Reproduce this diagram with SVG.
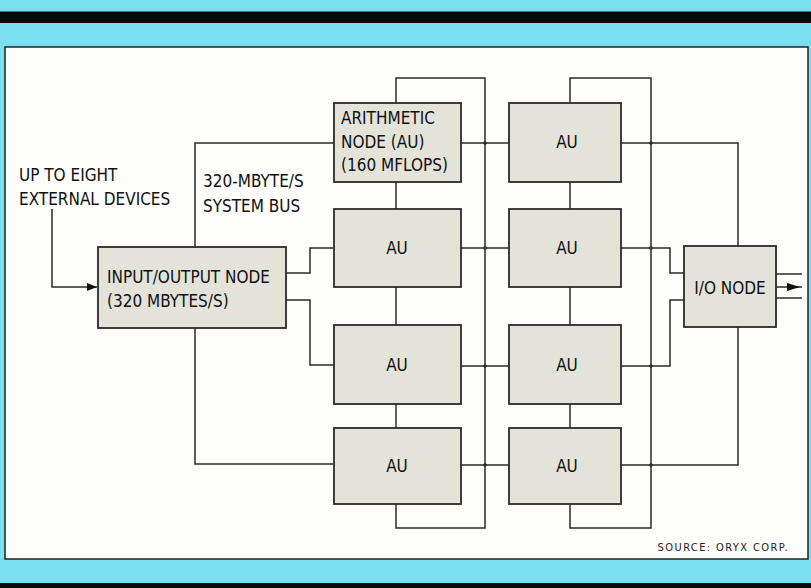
<svg xmlns="http://www.w3.org/2000/svg" width="811" height="588" viewBox="0 0 811 588">
<defs>
<style>
.bg{fill:#7adff1}
.band{fill:#0b0b0b}
.panel{fill:#fdfdfb;stroke:#222;stroke-width:1.5}
.box{fill:#e3e3da;stroke:#2a2a2a;stroke-width:1.8}
.ln{fill:none;stroke:#2a2a2a;stroke-width:1.5}
.dot{fill:#2a2a2a}
.t{font-family:"DejaVu Sans Condensed","DejaVu Sans","Liberation Sans",sans-serif;font-stretch:condensed;font-size:17px;fill:#111}
.c{text-anchor:middle}
.src{font-family:"DejaVu Sans Condensed","DejaVu Sans","Liberation Sans",sans-serif;font-stretch:condensed;font-size:11px;letter-spacing:1.4px;fill:#222;text-anchor:end}
</style>
<marker id="arr" viewBox="0 0 10 8" refX="10" refY="4" markerWidth="10" markerHeight="8" markerUnits="userSpaceOnUse" orient="auto">
<path d="M0,0 L10,4 L0,8 z" fill="#111"/>
</marker>
</defs>
<rect class="bg" x="0" y="0" width="811" height="588"/>
<rect class="band" x="0" y="11.5" width="811" height="11.5"/>
<rect class="band" x="0" y="583" width="811" height="5"/>
<rect class="panel" x="5" y="47" width="803" height="512"/>

<g id="connectors">
<!-- external input -->
<path class="ln" d="M52,209 V287 H97" marker-end="url(#arr)"/>
<!-- system bus -->
<path class="ln" d="M195,247 V143 H334"/>
<path class="ln" d="M195,328 V464 H334"/>
<path class="ln" d="M286,273 H310 V248 H334"/>
<path class="ln" d="M286,300 H310 V365 H334"/>
<!-- column 1 loop -->
<path class="ln" d="M396,103 V78 H485 V528 H396 V504"/>
<path class="ln" d="M396,182 V209 M396,287 V325 M396,404 V428"/>
<!-- column 1 to column 2 -->
<path class="ln" d="M461,143 H509 M461,248 H509 M461,366 H509 M461,465 H509"/>
<!-- column 2 loop -->
<path class="ln" d="M570,103 V78 H651 V528 H570 V504"/>
<path class="ln" d="M570,182 V209 M570,287 V325 M570,404 V428"/>
<!-- column 2 to I/O node -->
<path class="ln" d="M621,143 H738 V246"/>
<path class="ln" d="M621,248 H670 V273 H684"/>
<path class="ln" d="M621,366 H670 V300 H684"/>
<path class="ln" d="M621,465 H738 V327"/>
<!-- outputs -->
<path class="ln" d="M776,274 H802 M776,298 H802"/>
<path class="ln" d="M776,287 H802"/>
<path d="M787,283 L800,287 L787,291 z" fill="#111"/>
<circle class="dot" cx="485" cy="143" r="1.8"/>
<circle class="dot" cx="485" cy="248" r="1.8"/>
<circle class="dot" cx="485" cy="366" r="1.8"/>
<circle class="dot" cx="485" cy="465" r="1.8"/>
<circle class="dot" cx="651" cy="143" r="1.8"/>
<circle class="dot" cx="651" cy="248" r="1.8"/>
<circle class="dot" cx="651" cy="366" r="1.8"/>
<circle class="dot" cx="651" cy="465" r="1.8"/>
</g>

<g id="label-external">
<text class="t" x="19" y="181">UP TO EIGHT</text>
<text class="t" x="19" y="205">EXTERNAL DEVICES</text>
</g>
<g id="label-bus">
<text class="t" x="203" y="187">320-MBYTE/S</text>
<text class="t" x="203" y="212">SYSTEM BUS</text>
</g>

<g id="io-input">
<rect class="box" x="98" y="247" width="188" height="81"/>
<text class="t" x="107" y="283">INPUT/OUTPUT NODE</text>
<text class="t" x="107" y="307">(320 MBYTES/S)</text>
</g>

<g id="arith-node">
<rect class="box" x="334" y="103" width="127" height="79"/>
<text class="t" x="341" y="124">ARITHMETIC</text>
<text class="t" x="341" y="148">NODE (AU)</text>
<text class="t" x="341" y="171">(160 MFLOPS)</text>
</g>
<g id="au-1-2">
<rect class="box" x="334" y="209" width="127" height="78"/>
<text class="t c" x="397" y="254">AU</text>
</g>
<g id="au-1-3">
<rect class="box" x="334" y="325" width="127" height="79"/>
<text class="t c" x="397" y="371">AU</text>
</g>
<g id="au-1-4">
<rect class="box" x="334" y="428" width="127" height="76"/>
<text class="t c" x="397" y="472">AU</text>
</g>

<g id="au-2-1">
<rect class="box" x="509" y="103" width="112" height="79"/>
<text class="t c" x="567" y="148">AU</text>
</g>
<g id="au-2-2">
<rect class="box" x="509" y="209" width="112" height="78"/>
<text class="t c" x="567" y="254">AU</text>
</g>
<g id="au-2-3">
<rect class="box" x="509" y="325" width="112" height="79"/>
<text class="t c" x="567" y="371">AU</text>
</g>
<g id="au-2-4">
<rect class="box" x="509" y="428" width="112" height="76"/>
<text class="t c" x="567" y="472">AU</text>
</g>

<g id="io-output">
<rect class="box" x="684" y="246" width="92" height="81"/>
<text class="t c" x="730" y="294">I/O NODE</text>
</g>

<text class="src" x="789" y="551">SOURCE: ORYX CORP.</text>
</svg>
